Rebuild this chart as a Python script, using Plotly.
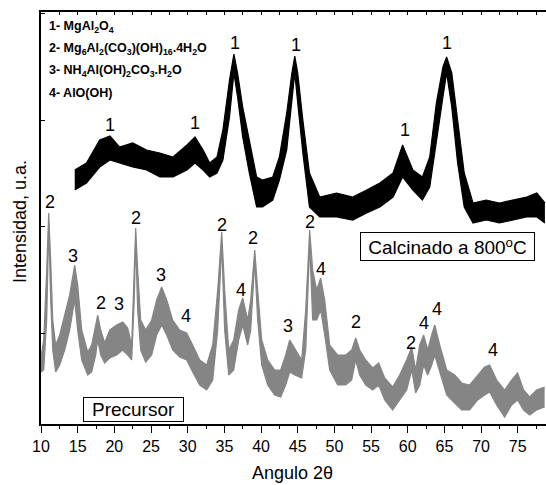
import plotly.graph_objects as go

# ---------------- data ----------------
# Calcined sample (black): 2theta, upper and lower edge of the noisy band (a.u.)
calc_theta = [14.6, 16.2, 18.0, 19.4, 20.7, 22.5, 24.4, 26.2, 28.0, 29.9, 31.0, 32.1, 33.0, 34.0,
              34.8, 35.7, 36.3, 36.8, 37.5, 38.4, 39.4, 40.2, 41.6, 42.5, 43.5, 44.2, 44.6, 45.0,
              45.7, 46.6, 48.0, 50.3, 52.5, 54.4, 56.2, 58.0, 59.3, 60.7, 62.0, 63.0, 63.9, 64.8,
              65.3, 66.0, 66.8, 67.7, 68.9, 70.7, 72.5, 74.3, 76.2, 77.6, 78.7]
calc_upper = [254, 261, 284, 288, 277, 281, 274, 271, 267, 279, 287, 274, 261, 267,
              294, 344, 370, 351, 317, 284, 247, 244, 247, 267, 311, 351, 368, 351,
              304, 251, 227, 231, 227, 234, 241, 251, 279, 254, 247, 267, 321, 357,
              367, 351, 301, 251, 221, 224, 221, 224, 227, 231, 221]
calc_lower = [234, 241, 257, 264, 261, 257, 254, 247, 247, 254, 261, 254, 247, 251,
              264, 307, 351, 327, 287, 251, 217, 217, 224, 244, 274, 321, 351, 321,
              271, 217, 207, 207, 204, 211, 217, 227, 247, 234, 224, 237, 284, 327,
              351, 317, 261, 217, 201, 204, 201, 204, 207, 207, 201]

# Precursor (grey)
prec_theta = [10.0, 10.37, 10.78, 11.05, 11.32, 11.6, 12.0, 12.55, 13.23, 13.91, 14.59, 15.0,
              15.55, 16.37, 16.91, 17.46, 17.73, 18.14, 18.68, 19.37, 20.32, 21.14, 21.82, 22.36,
              22.71, 22.91, 23.18, 23.59, 24.27, 25.09, 25.77, 26.45, 27.14, 27.95, 28.91, 29.86,
              30.68, 31.64, 32.59, 33.41, 34.09, 34.64, 35.04, 35.59, 36.27, 36.95, 37.5, 38.18,
              38.59, 39.14, 39.54, 40.09, 40.91, 41.86, 42.68, 43.36, 43.91, 44.59, 45.54, 46.09,
              46.63, 47.04, 47.59, 48.13, 48.68, 49.36, 50.45, 51.54, 52.36, 52.91, 53.45, 54.27,
              55.22, 56.04, 56.86, 57.94, 58.9, 59.85, 60.54, 61.08, 61.63, 62.17, 62.72, 63.27,
              63.68, 64.36, 65.31, 66.4, 67.35, 68.44, 69.53, 70.49, 71.17, 72.12, 73.21, 74.16,
              74.98, 75.8, 76.62, 77.57, 78.66]
prec_upper = [67, 84, 154, 211, 164, 104, 79, 89, 109, 129, 159, 139,
              94, 72, 79, 99, 109, 94, 81, 94, 99, 102, 96, 79,
              164, 196, 154, 104, 94, 104, 124, 137, 124, 104, 94, 91,
              79, 64, 59, 79, 134, 192, 134, 74, 84, 114, 126, 104,
              124, 174, 134, 84, 64, 54, 54, 69, 84, 76, 64, 114,
              194, 154, 134, 146, 124, 79, 69, 69, 74, 86, 74, 64,
              56, 61, 46, 37, 49, 64, 77, 54, 79, 89, 74, 89,
              99, 79, 54, 49, 41, 39, 49, 57, 59, 44, 34, 44,
              51, 34, 27, 34, 37]
prec_lower = [52, 54, 104, 199, 124, 74, 52, 59, 74, 94, 124, 94,
              64, 49, 52, 69, 84, 69, 61, 66, 69, 74, 69, 64,
              124, 184, 114, 74, 62, 69, 89, 99, 89, 74, 67, 64,
              52, 39, 34, 44, 94, 179, 94, 49, 54, 84, 99, 79,
              94, 162, 104, 59, 39, 29, 27, 39, 52, 49, 46, 74,
              179, 104, 104, 114, 89, 54, 39, 39, 44, 64, 49, 39,
              34, 39, 24, 14, 24, 34, 54, 31, 39, 59, 49, 59,
              69, 52, 29, 21, 14, 14, 24, 29, 32, 19, 7, 19,
              24, 14, 9, 14, 17]

# Peak labels
calc_lab_theta = [19.37, 30.95, 36.41, 44.72, 59.58, 65.31]
calc_lab_y = [299, 301, 381, 379, 294, 381]
calc_lab_text = ["1", "1", "1", "1", "1", "1"]

prec_lab_theta = [11.28, 14.36, 18.23, 20.63, 23.01, 26.32, 29.82, 34.64, 37.23, 38.9,
                  43.67, 46.73, 48.23, 53.0, 60.5, 62.17, 64.04, 71.62]
prec_lab_y = [222, 168, 121, 120, 206, 149, 108, 199, 134, 186,
              98, 202, 155, 102, 81, 101, 115, 74]
prec_lab_text = ["2", "3", "2", "3", "2", "3", "4", "2", "4", "2",
                 "3", "2", "4", "2", "2", "4", "4", "4"]

legend_lines = ["1- MgAl<sub>2</sub>O<sub>4</sub>",
                "2- Mg<sub>6</sub>Al<sub>2</sub>(CO<sub>3</sub>)(OH)<sub>16</sub>.4H<sub>2</sub>O",
                "3- NH<sub>4</sub>Al(OH)<sub>2</sub>CO<sub>3</sub>.H<sub>2</sub>O",
                "4- AlO(OH)"]
legend_y = [397, 375, 353, 331]

x_ticks = [10, 15, 20, 25, 30, 35, 40, 45, 50, 55, 60, 65, 70, 75]
y_ticks = [91, 197.5, 304, 410.5]

# ---------------- figure ----------------
FONT = "Liberation Sans, Arial, sans-serif"
BLACK = "#000000"
GREY = "#858585"

fig = go.Figure()

for th, lo, up, col, xa in [(prec_theta, prec_lower, prec_upper, GREY, "x"),
                            (calc_theta, calc_lower, calc_upper, BLACK, "x2")]:
    fig.add_trace(go.Scatter(x=th, y=lo, mode="lines", line=dict(color=col, width=1.2),
                             xaxis=xa, showlegend=False, hoverinfo="skip"))
    fig.add_trace(go.Scatter(x=th, y=up, mode="lines", line=dict(color=col, width=1.2),
                             xaxis=xa, fill="tonexty", fillcolor=col, showlegend=False,
                             hoverinfo="skip"))

annotations = []
for xs, ys, ts in [(calc_lab_theta, calc_lab_y, calc_lab_text),
                   (prec_lab_theta, prec_lab_y, prec_lab_text)]:
    for x, y, t in zip(xs, ys, ts):
        annotations.append(dict(x=x, y=y, text=t, showarrow=False, xanchor="center",
                                yanchor="middle", font=dict(family=FONT, size=18, color=BLACK)))

for t, y in zip(legend_lines, legend_y):
    annotations.append(dict(x=10.8, y=y, text="<b>" + t + "</b>", showarrow=False,
                            xanchor="left", yanchor="middle",
                            font=dict(family=FONT, size=12.5, color=BLACK)))

annotations.append(dict(x=65.38, y=178, text="Calcinado a 800<sup>o</sup>C", showarrow=False,
                        xanchor="center", yanchor="middle", bordercolor=BLACK, borderwidth=1,
                        borderpad=1, bgcolor="white", width=171, height=25,
                        font=dict(family=FONT, size=19, color=BLACK)))
annotations.append(dict(x=22.57, y=15, text="Precursor", showarrow=False,
                        xanchor="center", yanchor="middle", bordercolor=BLACK, borderwidth=1,
                        borderpad=1, bgcolor="white", width=97, height=21,
                        font=dict(family=FONT, size=19, color=BLACK)))

# axis titles
annotations.append(dict(xref="paper", yref="paper", x=0.4977, y=0, yshift=-49,
                        text="Angulo 2θ", showarrow=False, xanchor="center", yanchor="middle",
                        font=dict(family=FONT, size=18, color=BLACK)))
annotations.append(dict(xref="paper", yref="paper", x=0, y=0.49, xshift=-21,
                        text="Intensidad, u.a.", textangle=-90, showarrow=False,
                        xanchor="center", yanchor="middle",
                        font=dict(family=FONT, size=18, color=BLACK)))

fig.update_layout(
    width=546, height=485,
    margin=dict(l=41, r=0, t=12, b=61),
    paper_bgcolor="white", plot_bgcolor="white",
    annotations=annotations,
    xaxis=dict(range=[10, 78.85], tickmode="array", tickvals=x_ticks,
               ticktext=[str(v) for v in x_ticks], ticks="outside", ticklen=7, tickwidth=1.3,
               tickcolor=BLACK, showline=True, linecolor=BLACK, linewidth=1.5,
               showgrid=False, zeroline=False,
               tickfont=dict(family=FONT, size=16, color=BLACK),
               minor=dict(ticks="outside", ticklen=3, dtick=2.5, tick0=10, tickcolor=BLACK,
                          showgrid=False)),
    xaxis2=dict(range=[10, 78.85], overlaying="x", side="top", matches="x",
                ticks="inside", ticklen=3, tickwidth=1, tickcolor=BLACK, dtick=2.5, tick0=10,
                showticklabels=False, showline=True, linecolor=BLACK, linewidth=1.5,
                showgrid=False, zeroline=False),
    yaxis=dict(range=[0, 412], tickmode="array", tickvals=y_ticks, showticklabels=False,
               ticks="inside", ticklen=4, tickcolor=BLACK, showline=True, linecolor=BLACK,
               linewidth=1.5, showgrid=False, zeroline=False),
)

fig.write_html("out.html", config={"displayModeBar": False},
               post_script="document.body.style.margin='0';document.body.style.padding='0';")
